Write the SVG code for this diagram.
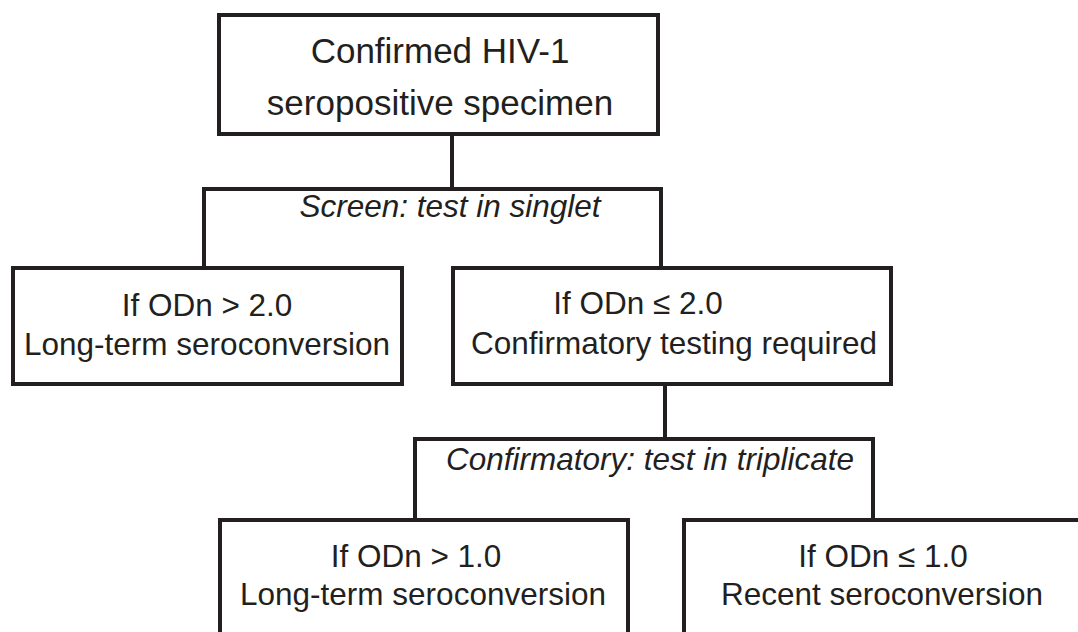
<svg xmlns="http://www.w3.org/2000/svg" width="1078" height="632" viewBox="0 0 1078 632">
  <style>
    .box { fill: #ffffff; stroke: #231f20; stroke-width: 4; }
    .link { fill: none; stroke: #231f20; stroke-width: 4; stroke-linejoin: miter; }
    text { font-family: "Liberation Sans", Arial, sans-serif; fill: #231f20; text-anchor: middle; font-size: 31.5px; }
    .big { font-size: 35px; }
    .note { font-style: italic; }
  </style>
  <rect width="1078" height="632" fill="#ffffff"/>

  <!-- connectors: stems and brackets between levels -->
  <g id="connectors">
    <path class="link" d="M452 134 V189"/>
    <path class="link" d="M204 267 V189 H661 V267"/>
    <path class="link" d="M665 385 V439"/>
    <path class="link" d="M415 520 V439 H873 V520"/>
    <text class="note" x="450" y="217">Screen: test in singlet</text>
    <text class="note" x="650" y="470">Confirmatory: test in triplicate</text>
  </g>

  <g id="specimen">
    <rect class="box" x="219" y="15" width="439" height="119"/>
    <text class="big" x="440" y="63">Confirmed HIV-1</text>
    <text class="big" x="440" y="115">seropositive specimen</text>
  </g>

  <g id="screen-high">
    <rect class="box" x="13" y="268" width="389" height="116"/>
    <text x="207" y="316">If ODn &gt; 2.0</text>
    <text x="207" y="355">Long-term seroconversion</text>
  </g>

  <g id="screen-low">
    <rect class="box" x="453" y="268" width="438" height="116"/>
    <text x="638" y="314">If ODn ≤ 2.0</text>
    <text x="674" y="354">Confirmatory testing required</text>
  </g>

  <g id="confirm-high">
    <rect class="box" x="220" y="520" width="408" height="130"/>
    <text x="416" y="567">If ODn &gt; 1.0</text>
    <text x="423" y="605">Long-term seroconversion</text>
  </g>

  <g id="confirm-low">
    <rect class="box" x="684" y="520" width="410" height="130"/>
    <text x="883" y="567">If ODn ≤ 1.0</text>
    <text x="882" y="605">Recent seroconversion</text>
  </g>
</svg>
